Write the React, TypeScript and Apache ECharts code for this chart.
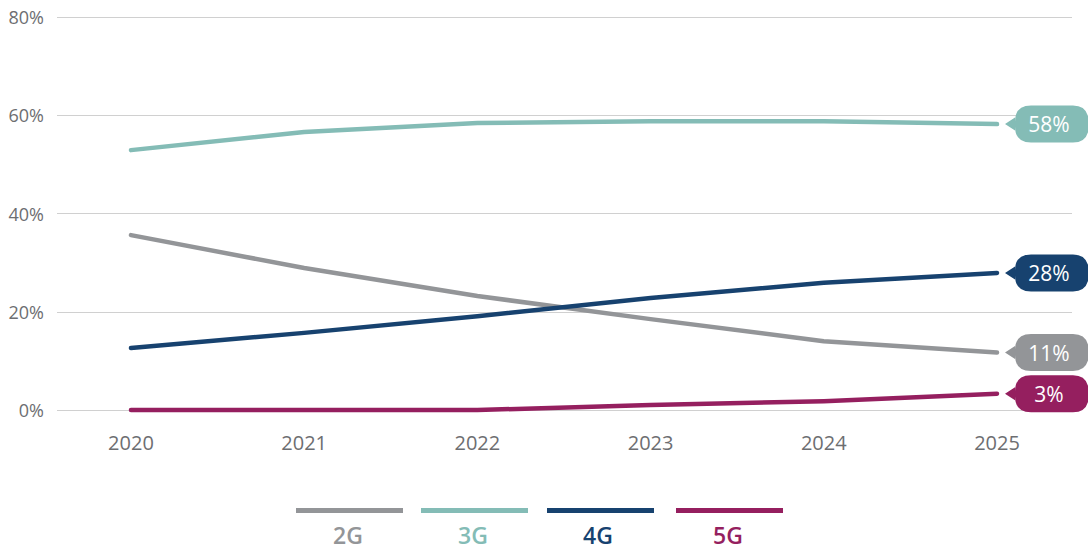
import React, { useEffect, useRef } from "react";
import * as echarts from "echarts";

const years = [2020, 2021, 2022, 2023, 2024, 2025];
const seriesNames = ["2G", "3G", "4G", "5G"];
const values2G = [35.6, 28.9, 23.2, 18.5, 14.0, 11.7];
const values3G = [52.9, 56.6, 58.4, 58.8, 58.8, 58.2];
const values4G = [12.6, 15.7, 19.1, 22.8, 25.9, 27.9];
const values5G = [0, 0, 0, 1.0, 1.8, 3.3];
const endLabels = ["11%", "58%", "28%", "3%"];
const yTicks = [0, 20, 40, 60, 80];

const colors = ["#939598", "#84bcb6", "#17426f", "#951f5f"];
const allValues = [values2G, values3G, values4G, values5G];

const bubblePath =
  "path://M0 18.5 L10 12 L10 16 Q10 0 26 0 L68 0 Q84 0 84 18.5 Q84 37 68 37 L26 37 Q10 37 10 21 L10 25 Z";

const legendLineLefts = [296, 421, 547, 676];
const legendTextLefts = [333, 458, 583, 713];

export default function App() {
  const ref = useRef<HTMLDivElement>(null);
  useEffect(() => {
    if (!ref.current) return;
    const chart = echarts.init(ref.current, null, { renderer: "svg" });
    const font = "'Open Sans', Lato, sans-serif";
    const series = seriesNames.map((name, i) => ({
      name,
      type: "line",
      data: years.map((y, j) => [y, allValues[i][j]]),
      showSymbol: false,
      symbol: "none",
      clip: false,
      lineStyle: { width: 4.5, color: colors[i], cap: "round", join: "round" },
      itemStyle: { color: colors[i] },
      z: 2 + i,
      markPoint: {
        symbol: bubblePath,
        symbolSize: [84, 37],
        symbolOffset: [50, 0],
        itemStyle: { color: colors[i] },
        label: {
          show: true,
          position: "inside",
          offset: [2, 0],
          color: "#ffffff",
          fontSize: 21,
          fontWeight: 400,
          fontFamily: font,
          formatter: () => endLabels[i],
        },
        data: [{ coord: [years[years.length - 1], allValues[i][years.length - 1]] }],
        z: 10,
      },
    }));
    const legends: any[] = [];
    seriesNames.forEach((name, i) => {
      legends.push({
        data: [{ name, icon: "rect", itemStyle: { color: colors[i] } }],
        left: legendLineLefts[i],
        top: 508,
        itemWidth: 107,
        itemHeight: 5,
        padding: 0,
        selectedMode: false,
        formatter: () => "",
        textStyle: { fontSize: 1 },
      });
      legends.push({
        data: [{ name, icon: "none", textStyle: { color: colors[i] } }],
        left: legendTextLefts[i] - 5,
        top: 523,
        itemWidth: 0,
        itemHeight: 0,
        padding: 0,
        selectedMode: false,
        textStyle: { fontSize: 23, fontWeight: 600, fontFamily: font, color: colors[i] },
      });
    });
    chart.setOption({
      animation: false,
      backgroundColor: "#ffffff",
      grid: { left: 57, right: 16, top: 17, bottom: 140 },
      xAxis: {
        type: "value",
        min: 2019.573,
        max: 2025.433,
        axisLine: { show: false },
        axisTick: { show: false },
        splitLine: { show: false },
        axisLabel: {
          customValues: years,
          formatter: (v: number) => String(Math.round(v)),
          color: "#6d6e71",
          fontSize: 20,
          fontWeight: 400,
          fontFamily: font,
          margin: 22,
        },
      },
      yAxis: {
        type: "value",
        min: 0,
        max: 80,
        interval: 20,
        axisLine: { show: false },
        axisTick: { show: false },
        splitLine: { lineStyle: { color: "#d0d0d0", width: 1 } },
        axisLabel: {
          customValues: yTicks,
          formatter: (v: number) => v + "%",
          color: "#6d6e71",
          fontSize: 18,
          fontWeight: 400,
          fontFamily: font,
          margin: 13,
        },
      },
      legend: legends,
      series,
    });
    return () => chart.dispose();
  }, []);
  return (
    <div
      ref={ref}
      style={{ position: "absolute", left: 0, top: 0, width: 1088, height: 550 }}
    />
  );
}
